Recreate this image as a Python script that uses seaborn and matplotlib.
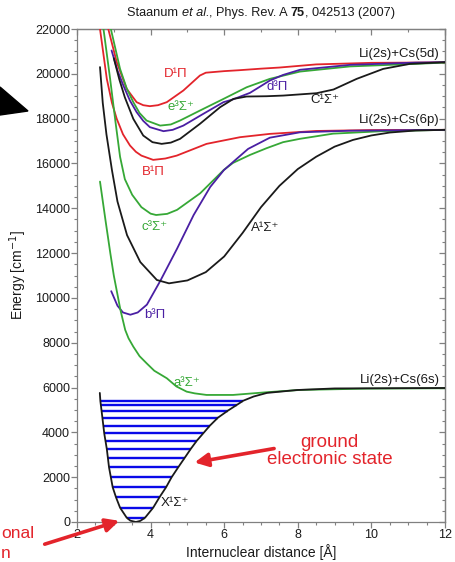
import matplotlib
matplotlib.use("Agg")
import matplotlib.pyplot as plt
import numpy as np
import seaborn as sns
from matplotlib.patches import Polygon
from matplotlib.ticker import MultipleLocator

# ---- potential curves (r in Angstrom, E in cm^-1) ---- #
# Li(2s)+Cs(5d) manifold
D1Pi_r = [2.85, 3.08, 3.35, 3.62, 3.80, 3.98, 4.20, 4.44, 4.89, 5.34, 5.50, 6.0, 6.4, 7.0, 7.5, 8.5, 10.0, 12.0]
D1Pi_e = [22000, 20520, 19330, 18735, 18600, 18556, 18600, 18735, 19255, 19924, 20050, 20120, 20160, 20230, 20280, 20420, 20490, 20510]
e3Sig_r = [2.92, 3.17, 3.35, 3.53, 3.70, 3.89, 4.26, 4.55, 4.80, 5.34, 5.98, 6.61, 7.24, 8.06, 9.42, 11.2, 12.0]
e3Sig_e = [22000, 20220, 19350, 18735, 18250, 17915, 17690, 17740, 17915, 18360, 18880, 19400, 19775, 20100, 20330, 20445, 20500]
d3Pi_r = [2.94, 3.10, 3.26, 3.44, 3.62, 3.80, 3.98, 4.35, 4.60, 4.89, 5.43, 5.98, 6.24, 6.7, 7.24, 7.6, 8.06, 9.42, 11.2, 12.0]
d3Pi_e = [21040, 20150, 19477, 18800, 18290, 17900, 17620, 17440, 17500, 17690, 18212, 18735, 18860, 19150, 19700, 19950, 20180, 20400, 20500, 20520]
C1Sig_r = [3.0, 3.15, 3.3, 3.53, 3.8, 4.05, 4.3, 4.55, 4.8, 5.34, 5.89, 6.25, 6.61, 7.15, 7.61, 8.51, 8.97, 9.6, 10.32, 11.05, 12.0]
C1Sig_e = [20700, 19750, 18950, 17990, 17245, 16950, 16874, 16930, 17097, 17767, 18512, 18880, 18987, 19000, 19030, 19135, 19300, 19775, 20220, 20445, 20520]

# Li(2s)+Cs(6p) manifold
B1Pi_r = [2.625, 2.81, 2.95, 3.08, 3.25, 3.44, 3.60, 3.75, 4.07, 4.40, 4.71, 5.52, 6.43, 7.24, 8.5, 10.0, 12.0]
B1Pi_e = [22000, 19775, 18700, 17990, 17300, 16800, 16520, 16350, 16160, 16220, 16350, 16874, 17172, 17320, 17450, 17490, 17500]
c3Sig_r = [2.72, 2.90, 3.05, 3.17, 3.3, 3.5, 3.75, 4.0, 4.15, 4.45, 4.72, 5.35, 5.99, 6.24, 6.70, 7.15, 7.6, 8.06, 8.96, 10.3, 12.0]
c3Sig_e = [22000, 19775, 17800, 16300, 15300, 14600, 14050, 13760, 13700, 13750, 13930, 14673, 15713, 16025, 16380, 16680, 16950, 17100, 17330, 17440, 17500]
b3Pi_r = [2.93, 3.1, 3.25, 3.45, 3.65, 3.9, 4.26, 4.72, 5.17, 5.62, 5.99, 6.3, 6.65, 7.24, 8.06, 9.4, 12.0]
b3Pi_e = [10300, 9650, 9350, 9250, 9350, 9700, 10750, 12200, 13700, 14950, 15700, 16150, 16650, 17150, 17390, 17460, 17500]
A1Sig_r = [2.625, 2.7, 2.8, 2.95, 3.1, 3.36, 3.72, 4.17, 4.5, 5.0, 5.5, 6.0, 6.5, 7.0, 7.5, 8.0, 8.5, 9.0, 9.5, 10.0, 10.5, 11.2, 12.0]
A1Sig_e = [20300, 18700, 17300, 15700, 14300, 12800, 11600, 10800, 10650, 10780, 11150, 11850, 12900, 14050, 15000, 15750, 16300, 16750, 17050, 17250, 17380, 17470, 17500]

# Li(2s)+Cs(6s) manifold
a3Sig_r = [2.625, 2.78, 2.905, 3.0, 3.1, 3.18, 3.31, 3.4, 3.53, 3.7, 3.89, 4.1, 4.44, 4.7, 4.98, 5.2, 5.52, 6.24, 7.15, 8.06, 9.87, 12.0]
a3Sig_e = [15190, 13400, 12000, 11000, 10150, 9464, 8571, 8200, 7826, 7400, 7085, 6750, 6415, 6050, 5817, 5740, 5670, 5670, 5790, 5893, 5952, 5968]
X1Sig_r = [2.62, 2.635, 2.69, 2.74, 2.81, 2.87, 2.97, 3.06, 3.17, 3.35, 3.45, 3.60, 3.72, 3.85, 4.07,
           4.24, 4.42, 4.57, 4.75, 4.93, 5.09, 5.25, 5.43, 5.61, 5.83, 6.10, 6.34, 6.52, 6.8, 7.16, 7.98, 9.0, 12.0]
X1Sig_e = [5760, 5400, 4656, 3958, 3259, 2441, 1549, 1102, 639, 193, 60, 0, 50, 193, 639,
           1102, 1549, 1995, 2441, 2872, 3259, 3616, 3958, 4299, 4656, 4969, 5222, 5415, 5600, 5760, 5890, 5960, 5980]

# vibrational levels of the ground state
X_levels = [193, 639, 1102, 1549, 1995, 2441, 2872, 3259, 3616, 3958, 4299, 4656, 4969, 5222, 5415]

RED, GREEN, PURPLE, BLACK, BLUE = "#e3242b", "#36a836", "#4a1fa3", "#1a1a1a", "#0a0ae8"
GRAY = "#808080"

curves = [
    (D1Pi_r, D1Pi_e, RED), (e3Sig_r, e3Sig_e, GREEN), (d3Pi_r, d3Pi_e, PURPLE), (C1Sig_r, C1Sig_e, BLACK),
    (B1Pi_r, B1Pi_e, RED), (c3Sig_r, c3Sig_e, GREEN), (b3Pi_r, b3Pi_e, PURPLE), (A1Sig_r, A1Sig_e, BLACK),
    (a3Sig_r, a3Sig_e, GREEN), (X1Sig_r, X1Sig_e, BLACK),
]

state_labels = [
    ("D¹Π", 4.69, 20000, RED), ("e³Σ⁺", 4.83, 18520, GREEN), ("d³Π", 7.43, 19420, PURPLE),
    ("C¹Σ⁺", 8.74, 18840, BLACK), ("B¹Π", 4.07, 15640, RED), ("c³Σ⁺", 4.10, 13170, GREEN),
    ("A¹Σ⁺", 7.10, 13120, BLACK), ("b³Π", 4.12, 9240, PURPLE), ("a³Σ⁺", 4.99, 6200, GREEN),
    ("X¹Σ⁺", 4.66, 850, BLACK),
]
asymptote_labels = [("Li(2s)+Cs(5d)", 20900), ("Li(2s)+Cs(6p)", 17950), ("Li(2s)+Cs(6s)", 6340)]

# citation line: (text piece, style, weight)
title_parts = [("Staanum ", "normal", "normal"), ("et al.", "italic", "normal"),
               (", Phys. Rev. A ", "normal", "normal"), ("75", "normal", "bold"),
               (", 042513 (2007)", "normal", "normal")]

sns.set_theme(style="white")
plt.rcParams["font.family"] = ["Liberation Sans", "DejaVu Sans"]

fig = plt.figure(figsize=(4.55, 5.62), dpi=100)
ax = fig.add_axes([77 / 455, 1 - 522 / 562, 368 / 455, 493 / 562])

# vibrational ladder inside the X state well
imin = int(np.argmin(X1Sig_e))
left_r, left_e = np.array(X1Sig_r[:imin + 1])[::-1], np.array(X1Sig_e[:imin + 1])[::-1]
right_r, right_e = np.array(X1Sig_r[imin:]), np.array(X1Sig_e[imin:])
for lev in X_levels:
    ax.hlines(lev, np.interp(lev, left_e, left_r), np.interp(lev, right_e, right_r),
              color=BLUE, lw=1.7, zorder=2)

for r, e, c in curves:
    sns.lineplot(x=r, y=e, color=c, lw=1.3, sort=False, ax=ax, zorder=3)

for txt, x, y, c in state_labels:
    ax.text(x, y, txt, color=c, fontsize=9.5, ha="center", va="center")
for txt, y in asymptote_labels:
    ax.text(11.85, y, txt, color=BLACK, fontsize=9.5, ha="right", va="center")

# annotations
ax.annotate("", xy=(5.12, 2634), xytext=(7.43, 3300),
            arrowprops=dict(arrowstyle="-|>", color=RED, lw=2.6, mutation_scale=20))
ax.text(8.87, 3150, "ground\nelectronic state", color=RED, fontsize=13.5,
        ha="center", va="center", linespacing=1.0)
ax.annotate("", xy=(3.22, 90), xytext=(1.05, -1027), annotation_clip=False,
            arrowprops=dict(arrowstyle="-|>", color=RED, lw=2.6, mutation_scale=20))
# label on the left, cropped by the picture border in the original
fig.text(1 / 455, 1 - 533 / 562, "onal", color=RED, fontsize=12.5, ha="left", va="center")
fig.text(1 / 455, 1 - 553 / 562, "n", color=RED, fontsize=12.5, ha="left", va="center")
fig.patches.append(Polygon([(0, 1 - 87 / 562), (28 / 455, 1 - 111 / 562), (0, 1 - 115 / 562)],
                           closed=True, color="black", transform=fig.transFigure))

# title built from pieces so that italic / bold sit inline
renderer = fig.canvas.get_renderer()
texts, widths = [], []
for s, style, weight in title_parts:
    t = fig.text(0, 1 - 13 / 562, s, fontsize=9.2, style=style, weight=weight,
                 ha="left", va="center", color=BLACK)
    texts.append(t)
    widths.append(t.get_window_extent(renderer).width / fig.bbox.width)
x0 = 261 / 455 - sum(widths) / 2
for t, w in zip(texts, widths):
    t.set_x(x0)
    x0 += w

# axes, ticks, frame
ax.set_xlim(2, 12)
ax.set_ylim(0, 22000)
ax.xaxis.set_major_locator(MultipleLocator(2))
ax.xaxis.set_minor_locator(MultipleLocator(0.5))
ax.yaxis.set_major_locator(MultipleLocator(2000))
ax.yaxis.set_minor_locator(MultipleLocator(500))
ax.tick_params(which="both", direction="out", color=GRAY, labelsize=9, pad=1,
               bottom=True, left=True, top=False, right=False, labelcolor=BLACK)
ax.tick_params(which="major", length=4, width=0.9)
ax.tick_params(which="minor", length=2.2, width=0.8)

top = ax.secondary_xaxis("top")
top.xaxis.set_major_locator(MultipleLocator(2))
top.xaxis.set_minor_locator(MultipleLocator(1))
top.tick_params(which="both", direction="in", color=GRAY, labeltop=False)
top.tick_params(which="major", length=4, width=0.9)
top.tick_params(which="minor", length=2.2, width=0.8)
right = ax.secondary_yaxis("right")
right.yaxis.set_major_locator(MultipleLocator(2000))
right.yaxis.set_minor_locator(MultipleLocator(500))
right.tick_params(which="both", direction="in", color=GRAY, labelright=False)
right.tick_params(which="major", length=4, width=0.9)
right.tick_params(which="minor", length=2.2, width=0.8)
for a in (ax, top, right):
    for s in a.spines.values():
        s.set_color(GRAY)
        s.set_linewidth(0.9)

ax.set_xlabel("Internuclear distance [Å]", fontsize=10, labelpad=2, color=BLACK)
ax.set_ylabel("Energy [cm$^{-1}$]", fontsize=10, labelpad=4, color=BLACK)

fig.savefig("out.png", dpi=100)
